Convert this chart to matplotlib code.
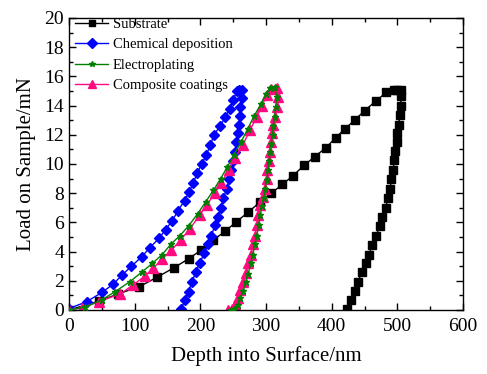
import matplotlib
matplotlib.use("Agg")
import matplotlib.pyplot as plt
from matplotlib.ticker import MultipleLocator

plt.rcParams['font.family'] = ['Liberation Serif', 'DejaVu Serif']
plt.rcParams['mathtext.fontset'] = 'stix'

# Substrate (loading + unloading)
sub_x = [0, 45, 75, 107, 134, 160, 182, 201, 220, 238, 255, 273, 291, 308, 325, 341, 358, 374,
         391, 406, 420, 435, 450, 467, 483, 495, 500, 506,
         506, 505, 504, 502, 500, 499, 497, 495, 494, 491, 489, 486, 482, 477, 473, 468, 462,
         457, 452, 446, 440, 435, 430, 424]
sub_y = [0, 0.6, 1.1, 1.6, 2.24, 2.9, 3.5, 4.1, 4.8, 5.4, 6.05, 6.7, 7.4, 8.0, 8.6, 9.2, 9.9, 10.5,
         11.1, 11.8, 12.4, 13.0, 13.65, 14.3, 14.9, 15.1, 15.1, 15.1,
         14.65, 14.0, 13.35, 12.7, 12.1, 11.5, 10.9, 10.3, 9.6, 8.95, 8.3, 7.7, 7.0, 6.4, 5.75, 5.1, 4.45,
         3.8, 3.2, 2.6, 1.95, 1.3, 0.7, 0.1]

# Chemical deposition
chem_x = [0, 27, 50, 67, 81, 95, 111, 123, 137, 147, 157, 166, 176, 183, 189, 195, 202, 209, 215,
          221, 230, 238, 245, 250, 256, 259, 263,
          263, 260, 260, 259, 258, 255, 253, 250, 247, 244, 240, 235, 231, 227, 222, 217, 212, 206,
          199, 193, 187, 182, 177, 171]
chem_y = [0.1, 0.57, 1.2, 1.76, 2.4, 3.0, 3.65, 4.27, 4.9, 5.5, 6.1, 6.8, 7.5, 8.1, 8.7, 9.35, 10.0,
          10.6, 11.3, 12.0, 12.6, 13.2, 13.8, 14.4, 15.0, 15.1, 15.1,
          14.5, 13.9, 13.3, 12.7, 12.1, 11.5, 10.85, 10.2, 9.6, 8.95, 8.3, 7.65, 7.0, 6.4, 5.8, 5.1, 4.5,
          3.9, 3.2, 2.6, 1.9, 1.25, 0.7, 0.1]

# Electroplating
elec_x = [0, 25, 50, 70, 93, 111, 127, 142, 155, 169, 182, 196, 208, 220, 231, 241, 251, 262, 272,
          282, 292, 300, 306, 314,
          316, 315, 313, 311, 310, 308, 306, 305, 303, 301, 299, 297, 294, 291, 289, 286, 283, 280,
          277, 273, 269, 265, 261, 257, 252, 246]
elec_y = [0, 0.2, 0.7, 1.25, 1.95, 2.6, 3.2, 3.8, 4.5, 5.1, 5.75, 6.6, 7.4, 8.2, 9.0, 9.8, 10.6, 11.5,
          12.4, 13.3, 14.1, 14.8, 15.2, 15.25,
          14.6, 13.9, 13.2, 12.6, 12.0, 11.4, 10.8, 10.2, 9.6, 8.9, 8.3, 7.7, 7.1, 6.5, 5.8, 5.1, 4.5,
          3.8, 3.2, 2.5, 1.9, 1.3, 0.8, 0.35, 0.05, 0]

# Composite coatings
comp_x = [0, 20, 45, 78, 97, 115, 128, 142, 156, 170, 184, 199, 210, 222, 232, 243, 253, 265, 275,
          286, 294, 301, 308, 316,
          318, 316, 313.5, 311, 309.5, 308, 306, 304, 302, 301, 298, 296, 291, 288, 286, 283, 280,
          277, 273, 269, 265, 261, 258, 253, 248, 242]
comp_y = [0, 0.15, 0.57, 1.1, 1.7, 2.3, 2.85, 3.5, 4.1, 4.8, 5.55, 6.5, 7.2, 8.0, 8.7, 9.6, 10.4,
          11.3, 12.3, 13.2, 14.0, 14.7, 15.15, 15.2,
          14.6, 13.9, 13.2, 12.7, 12.1, 11.5, 10.85, 10.2, 9.6, 8.95, 8.3, 7.75, 7.2, 6.5, 5.8, 5.1,
          4.5, 3.8, 3.2, 2.55, 1.95, 1.4, 0.8, 0.35, 0.1, 0.0]

labels = ["Substrate", "Chemical deposition", "Electroplating", "Composite coatings"]

fig = plt.figure(figsize=(4.87, 3.74), dpi=100)
ax = fig.add_axes([69/487, 1-310/374, (463-69)/487, (310-18)/374])

ax.plot(sub_x, sub_y, color='black', marker='s', ms=5.5, lw=1.0, label=labels[0])
ax.plot(chem_x, chem_y, color='#0000FF', marker='D', ms=5.5, lw=1.0, label=labels[1])
ax.plot(elec_x, elec_y, color='#008000', marker='*', ms=5, lw=1.0, label=labels[2], zorder=3)
ax.plot(comp_x, comp_y, color='#FF0A80', marker='^', ms=6.5, lw=1.0, label=labels[3], zorder=2.5)

ax.set_xlim(0, 600)
ax.set_ylim(0, 20)
ax.xaxis.set_major_locator(MultipleLocator(100))
ax.xaxis.set_minor_locator(MultipleLocator(50))
ax.yaxis.set_major_locator(MultipleLocator(2))
ax.yaxis.set_minor_locator(MultipleLocator(1))
ax.tick_params(which='both', direction='in', top=True, right=True, labelsize=14, width=1.0)
ax.tick_params(which='major', length=5)
ax.tick_params(which='minor', length=3)
ax.tick_params(axis='x', pad=6)
for s in ax.spines.values():
    s.set_linewidth(1.0)

ax.set_xlabel("Depth into Surface/nm", fontsize=15, labelpad=8)
ax.set_ylabel("Load on Sample/mN", fontsize=15, labelpad=6)

ax.legend(loc='upper left', frameon=False, fontsize=10.5, handlelength=2.3,
          handletextpad=0.3, labelspacing=0.5, borderaxespad=0.0, markerscale=0.85,
          bbox_to_anchor=(0.0, 1.022))

fig.savefig("out.png", dpi=100)
